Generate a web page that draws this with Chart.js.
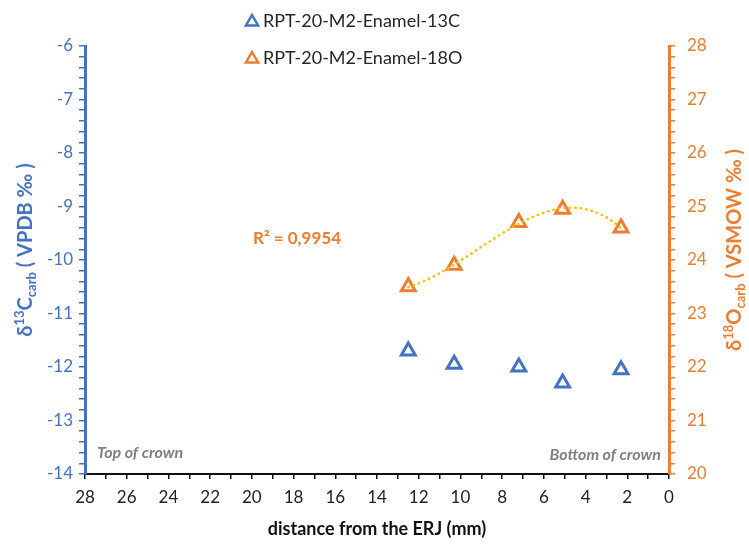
<!DOCTYPE html>
<html>
<head>
<meta charset="utf-8">
<script src="https://cdn.jsdelivr.net/npm/chart.js@4.4.1/dist/chart.umd.min.js"></script>
<style>
  body { margin: 0; background: #fff; }
  canvas { display: block; }
</style>
</head>
<body>
<canvas id="myChart" width="749" height="544"></canvas>
<script>
// sample positions along the tooth (mm from the ERJ)
const distance = [12.5, 10.3, 7.2, 5.1, 2.3];
const d13C = [-11.7, -11.95, -12.0, -12.3, -12.05];
const d18O = [23.5, 23.9, 24.7, 24.95, 24.6];

const xTickLabels = [28, 26, 24, 22, 20, 18, 16, 14, 12, 10, 8, 6, 4, 2, 0];
const leftTickLabels = [-6, -7, -8, -9, -10, -11, -12, -13, -14];
const rightTickLabels = [28, 27, 26, 25, 24, 23, 22, 21, 20];

const seriesNames = ['RPT-20-M2-Enamel-13C', 'RPT-20-M2-Enamel-18O'];
const r2Text = 'R² = 0,9954';

const BLUE = '#4472C4';
const ORANGE = '#ED7D31';
const GOLD = '#FFC000';
const FONT = 'Lato, "Open Sans", sans-serif';

function isLabel(list, v) {
  return list.some((t) => Math.abs(t - v) < 1e-6);
}

// least squares polynomial (excel style trendline)
function polyFit(xs, ys, deg) {
  const n = deg + 1;
  const m = [];
  for (let r = 0; r < n; r++) {
    m.push([]);
    for (let c = 0; c < n; c++) {
      let s = 0;
      xs.forEach((x) => (s += Math.pow(x, r + c)));
      m[r].push(s);
    }
    let s = 0;
    xs.forEach((x, i) => (s += ys[i] * Math.pow(x, r)));
    m[r].push(s);
  }
  for (let i = 0; i < n; i++) {
    let p = i;
    for (let k = i + 1; k < n; k++) if (Math.abs(m[k][i]) > Math.abs(m[p][i])) p = k;
    [m[i], m[p]] = [m[p], m[i]];
    for (let k = 0; k < n; k++) {
      if (k === i) continue;
      const f = m[k][i] / m[i][i];
      for (let j = i; j <= n; j++) m[k][j] -= f * m[i][j];
    }
  }
  return m.map((row, i) => row[n] / row[i]);
}

const coef = polyFit(distance, d18O, 3);
function trend(x) {
  return coef.reduce((s, c, i) => s + c * Math.pow(x, i), 0);
}

// draws text made of runs (normal / sup / sub), centered, rotated
function drawRuns(ctx, runs, cx, cy, angle, size, color) {
  ctx.save();
  ctx.translate(cx, cy);
  ctx.rotate(angle);
  ctx.fillStyle = color;
  ctx.textBaseline = 'alphabetic';
  let total = 0;
  runs.forEach((r) => {
    const s = r.type === 'normal' ? size : size * 0.65;
    ctx.font = `bold ${s}px ${FONT}`;
    r.w = ctx.measureText(r.text).width;
    r.s = s;
    total += r.w;
  });
  let x = -total / 2;
  runs.forEach((r) => {
    ctx.font = `bold ${r.s}px ${FONT}`;
    let dy = size * 0.35;
    if (r.type === 'sup') dy -= size * 0.4;
    if (r.type === 'sub') dy += size * 0.2;
    ctx.fillText(r.text, x, dy);
    x += r.w;
  });
  ctx.restore();
}

function drawTriangle(ctx, x, y, r, color) {
  ctx.save();
  ctx.strokeStyle = color;
  ctx.lineWidth = 2.5;
  ctx.beginPath();
  ctx.moveTo(x, y - r);
  ctx.lineTo(x + r * 0.866, y + r * 0.5);
  ctx.lineTo(x - r * 0.866, y + r * 0.5);
  ctx.closePath();
  ctx.stroke();
  ctx.restore();
}

const extras = {
  id: 'extras',
  afterDatasetsDraw(chart) {
    const ctx = chart.ctx;
    const xs = chart.scales.x;
    const ys = chart.scales.y2;

    // dotted trendline for 18O
    const x0 = Math.max(...distance);
    const x1 = Math.min(...distance);
    ctx.save();
    ctx.strokeStyle = GOLD;
    ctx.lineWidth = 2.5;
    ctx.lineCap = 'round';
    ctx.setLineDash([0.5, 5]);
    ctx.beginPath();
    for (let i = 0; i <= 100; i++) {
      const v = x0 + ((x1 - x0) * i) / 100;
      const px = xs.getPixelForValue(v);
      const py = ys.getPixelForValue(trend(v));
      if (i === 0) ctx.moveTo(px, py);
      else ctx.lineTo(px, py);
    }
    ctx.stroke();
    ctx.restore();
  },
  afterDraw(chart) {
    const ctx = chart.ctx;
    const area = chart.chartArea;

    // legend
    ctx.save();
    ctx.font = `18px ${FONT}`;
    ctx.fillStyle = '#262626';
    ctx.textBaseline = 'middle';
    ctx.textAlign = 'left';
    [BLUE, ORANGE].forEach((c, i) => {
      const y = 21 + i * 37;
      drawTriangle(ctx, 252, y + 1, 7, c);
      ctx.fillText(seriesNames[i], 263, y);
    });
    ctx.restore();

    // axis titles
    drawRuns(ctx, [
      { text: 'δ', type: 'normal' },
      { text: '13', type: 'sup' },
      { text: 'C', type: 'normal' },
      { text: 'carb', type: 'sub' },
      { text: ' ( VPDB ‰ )', type: 'normal' },
    ], 25, 250, -Math.PI / 2, 20, BLUE);
    drawRuns(ctx, [
      { text: 'δ', type: 'normal' },
      { text: '18', type: 'sup' },
      { text: 'O', type: 'normal' },
      { text: 'carb', type: 'sub' },
      { text: ' ( VSMOW ‰ )', type: 'normal' },
    ], 734, 250, -Math.PI / 2, 20, ORANGE);
    drawRuns(ctx, [{ text: 'distance from the ERJ (mm)', type: 'normal' }],
      (area.left + area.right) / 2, 529, 0, 18, '#111');

    // notes inside the plot
    ctx.save();
    ctx.font = `italic bold 16px ${FONT}`;
    ctx.fillStyle = '#808080';
    ctx.textBaseline = 'middle';
    ctx.textAlign = 'left';
    ctx.fillText('Top of crown', area.left + 12, area.bottom - 21);
    ctx.textAlign = 'right';
    ctx.fillText('Bottom of crown', area.right - 8, area.bottom - 19);
    ctx.font = `bold 17px ${FONT}`;
    ctx.fillStyle = ORANGE;
    ctx.textAlign = 'left';
    ctx.fillText(r2Text, 253, 239);
    ctx.restore();
  },
};

const ctx = document.getElementById('myChart');
new Chart(ctx, {
  type: 'scatter',
  data: {
    datasets: [
      {
        label: seriesNames[0],
        data: distance.map((x, i) => ({ x: x, y: d13C[i] })),
        yAxisID: 'y',
        pointStyle: 'triangle',
        pointRadius: 8,
        pointHoverRadius: 8,
        borderColor: BLUE,
        backgroundColor: 'rgba(0,0,0,0)',
        pointBorderWidth: 3,
      },
      {
        label: seriesNames[1],
        data: distance.map((x, i) => ({ x: x, y: d18O[i] })),
        yAxisID: 'y2',
        pointStyle: 'triangle',
        pointRadius: 8,
        pointHoverRadius: 8,
        borderColor: ORANGE,
        backgroundColor: 'rgba(0,0,0,0)',
        pointBorderWidth: 3,
      },
    ],
  },
  options: {
    responsive: false,
    animation: false,
    layout: {
      padding: { top: 46, left: 0, right: 0, bottom: 0 },
    },
    plugins: {
      legend: { display: false },
      tooltip: { enabled: false },
    },
    scales: {
      x: {
        type: 'linear',
        reverse: true,
        min: 0,
        max: 28,
        afterFit: (scale) => { scale.height = 70; },
        ticks: {
          stepSize: 1,
          autoSkip: false,
          maxRotation: 0,
          padding: 8,
          color: '#222',
          font: { family: FONT, size: 17 },
          callback: (v) => (isLabel(xTickLabels, v) ? String(v) : ''),
        },
        grid: {
          drawOnChartArea: false,
          drawTicks: true,
          tickLength: 5,
          color: '#111',
          lineWidth: 1.5,
        },
        border: { color: '#111', width: 2 },
      },
      y: {
        position: 'left',
        min: -14,
        max: -6,
        afterFit: (scale) => { scale.width = 85; },
        ticks: {
          stepSize: 0.2,
          autoSkip: false,
          padding: 6,
          color: BLUE,
          font: { family: FONT, size: 17 },
          callback: (v) => (isLabel(leftTickLabels, v) ? String(Math.round(v)) : ''),
        },
        grid: {
          drawOnChartArea: false,
          drawTicks: true,
          tickLength: 6,
          color: BLUE,
          lineWidth: 1.5,
        },
        border: { color: BLUE, width: 3 },
      },
      y2: {
        position: 'right',
        min: 20,
        max: 28,
        afterFit: (scale) => { scale.width = 80; },
        ticks: {
          stepSize: 0.2,
          autoSkip: false,
          padding: 12,
          color: ORANGE,
          font: { family: FONT, size: 17 },
          callback: (v) => (isLabel(rightTickLabels, v) ? String(Math.round(v)) : ''),
        },
        grid: {
          drawOnChartArea: false,
          drawTicks: true,
          tickLength: 6,
          color: ORANGE,
          lineWidth: 1.5,
        },
        border: { color: ORANGE, width: 3 },
      },
    },
  },
  plugins: [extras],
});
</script>
</body>
</html>
